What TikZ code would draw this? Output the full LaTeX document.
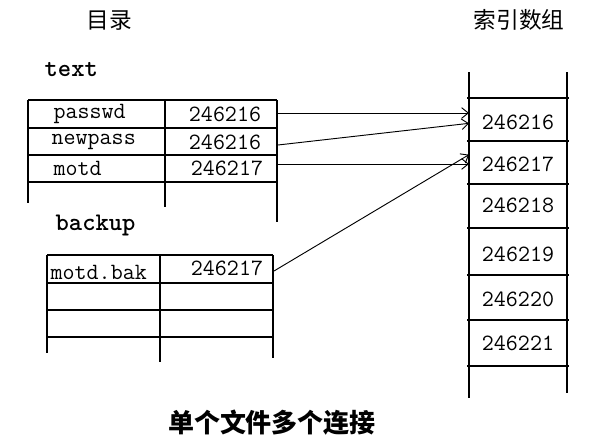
\documentclass[tikz,border=0pt]{standalone}
\usepackage{fontspec}
\newfontfamily\cjk{Noto Sans CJK SC}
\usetikzlibrary{arrows.meta}

\begin{document}
\begin{tikzpicture}[x=0.75pt,y=0.75pt,yscale=-1,xscale=1,
  line width=1pt,
  entry/.style={inner sep=0.75pt,font=\ttfamily\fontsize{17.5}{20}\selectfont},
  heading/.style={inner sep=0.75pt,font=\ttfamily\bfseries\fontsize{19}{22}\selectfont},
  caption/.style={inner sep=0.75pt,font=\cjk\fontsize{17}{20}\selectfont},
  cell/.style={entry,minimum width=73.5pt,outer sep=0pt},
  link/.style={-{Straight Barb[length=5pt,width=8pt]},line width=0.7pt}]
\useasboundingbox (0,0) rectangle (594,446);
%titles
\node[caption] (dirtitle) at (109,20) {目录};
\node[caption] (arrtitle) at (519,20) {索引数组};
\node[heading,anchor=west] (texttitle) at (43,70) {text};
\node[heading,anchor=west] (backuptitle) at (54,225) {backup};
\node[caption,font=\cjk\bfseries\fontsize{19.5}{22}\selectfont] (bottom) at (272,423) {单个文件多个连接};

%Table: text
\foreach \y in {100,128,155,182} \draw (28,\y) -- (277,\y);
\draw (28,100) -- (28,203) (165,100) -- (165,207) (277,100) -- (277,222);
\node[entry,anchor=west] (pwname) at (52,114) {passwd};
\node[entry,anchor=west] (npname) at (50,142) {newpass};
\node[entry,anchor=west] (mdname) at (52,168) {motd};
\node[entry] (pwnum) at (225,114) {246216};
\node[entry] (npnum) at (225,142) {246216};
\node[entry] (mdnum) at (227,168) {246217};
\coordinate (pwout) at (278,113);
\coordinate (npout) at (278,145);
\coordinate (mdout) at (278,164);

%Table: backup
\foreach \y in {255,283,310,337} \draw (47,\y) -- (273,\y);
\draw (47,255) -- (47,353) (160,255) -- (160,362) (273,255) -- (273,358);
\node[entry,anchor=west] (bkname) at (49,272) {motd.bak};
\node[entry] (bknum) at (227,268) {246217};
\coordinate (bkout) at (274,271);

%Index array
\draw (469,72) -- (469,398) (567,72) -- (567,393);
\foreach \y in {98,141,184,228,275,320,366} \draw (467,\y) -- (569,\y);
\node[cell] (c216) at (518,122) {246216};
\node[cell] (c217) at (518,164) {246217};
\node[cell] (c218) at (518,205) {246218};
\node[cell] (c219) at (518,254) {246219};
\node[cell] (c220) at (518,299) {246220};
\node[cell] (c221) at (518,343) {246221};

%links
\draw[link] (pwout) -- (c216.west |- pwout);
\draw[link] (npout) -- ([yshift=1pt]c216.west);
\draw[link] (mdout) -- (c217.west |- mdout);
\draw[link] (bkout) -- ([yshift=-7pt]c217.west);
\end{tikzpicture}
\end{document}
